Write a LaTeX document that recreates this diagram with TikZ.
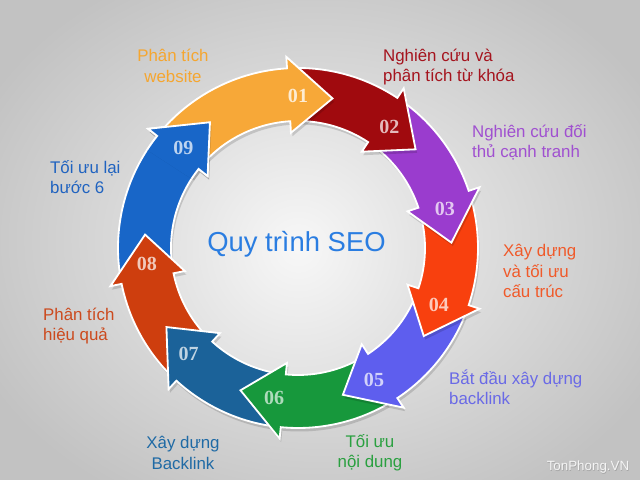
\documentclass[tikz,border=0pt]{standalone}
\usepackage{fontspec}
\setmainfont{Liberation Sans}
\newfontfamily\numfont{Liberation Serif}
\definecolor{cA}{HTML}{F7A838}
\definecolor{cB}{HTML}{A00A0E}
\definecolor{cC}{HTML}{9A3CCE}
\definecolor{cD}{HTML}{F8400E}
\definecolor{cE}{HTML}{5E5EEE}
\definecolor{cF}{HTML}{17983C}
\definecolor{cG}{HTML}{1B6299}
\definecolor{cH}{HTML}{CE3E0E}
\definecolor{cI}{HTML}{1866C8}
\definecolor{tA}{HTML}{F5A630}
\definecolor{tB}{HTML}{A5141E}
\definecolor{tC}{HTML}{A050D0}
\definecolor{tD}{HTML}{F05A2A}
\definecolor{tE}{HTML}{6A6AE6}
\definecolor{tF}{HTML}{2AA040}
\definecolor{tG}{HTML}{1F6AA5}
\definecolor{tH}{HTML}{CC4A1E}
\definecolor{tI}{HTML}{2063C0}
\definecolor{tQ}{HTML}{2A7DE1}
% #1 tail angle, #2 tip angle, #3 colour
\newcommand\segarrow[3]{%
  \fill[black, opacity=0.14, shift={(1.5,-3.5)}] (#1:180) arc[start angle=#1, end angle={#2+16.5}, radius=180] -- ({#2+16.5}:191.5) -- (#2:153.5) -- ({#2+16.5}:115.5) -- ({#2+16.5}:127) arc[start angle={#2+16.5}, end angle=#1, radius=127] -- cycle;
  \filldraw[fill=#3, draw=white, line width=2.6pt, line join=miter] (#1:180) arc[start angle=#1, end angle={#2+16.5}, radius=180] -- ({#2+16.5}:191.5) -- (#2:153.5) -- ({#2+16.5}:115.5) -- ({#2+16.5}:127) arc[start angle={#2+16.5}, end angle=#1, radius=127] -- cycle;
}
\tikzset{
  lbl/.style={font=\fontsize{24}{29}\selectfont, inner sep=0pt},
  num/.style={font=\numfont\bfseries\fontsize{28.5}{30}\selectfont, inner sep=0pt},
}
\begin{document}
\begin{tikzpicture}[x=0.5mm, y=0.5mm]
\useasboundingbox (0,0) rectangle (640,480);
\shade[inner color=gray!10, outer color=gray!48] (-60,-60) rectangle (700,540);
\begin{scope}[shift={(298,232)}]
  \shade[inner color=white!97!black, outer color=gray!22] (0,0) circle (128);
  \segarrow{-172}{-235}{cI}
  \segarrow{-136}{-185}{cH}
  \segarrow{-99}{-149}{cG}
  \segarrow{-60}{-112}{cF}
  \segarrow{-22}{-73}{cE}
  \segarrow{15}{-35}{cD}
  \segarrow{53}{2}{cC}
  \segarrow{90}{40}{cB}
  \segarrow{138}{77}{cA}
  \begin{scope}
    \clip (0,0) -- (117:260) arc[start angle=117, end angle=147, radius=260] -- cycle;
    \segarrow{-172}{-235}{cI}
  \end{scope}
  \node[num, text=white!78!cA] (n1) at (90:152) {01};
  \node[num, text=white!72!cB] (n2) at (53:152) {02};
  \node[num, text=white!72!cC] (n3) at (15:152) {03};
  \node[num, text=white!72!cD] (n4) at (-22:152) {04};
  \node[num, text=white!72!cE] (n5) at (-60:152) {05};
  \node[num, text=white!65!cF] (n6) at (-99:152) {06};
  \node[num, text=white!72!cG] (n7) at (-136:152) {07};
  \node[num, text=white!72!cH] (n8) at (-174:152) {08};
  \node[num, text=white!72!cI] (n9) at (139:152) {09};
\end{scope}
\node[font=\fontsize{39}{40}\selectfont, text=tQ, inner sep=0pt, anchor=base] (title) at (296.5,228) {Quy trình SEO};
\node[lbl, text=tA, align=center] (l1) at (173,414) {Phân tích\\website};
\node[lbl, text=tB, align=left, anchor=west] (l2) at (383,413) {Nghiên cứu và\\phân tích từ khóa};
\node[lbl, text=tC, align=left, anchor=west] (l3) at (472,338) {Nghiên cứu đối\\thủ cạnh tranh};
\node[lbl, text=tD, align=left, anchor=west] (l4) at (503,209) {Xây dựng\\và tối ưu\\cấu trúc};
\node[lbl, text=tE, align=left, anchor=west] (l5) at (449,93) {Bắt đầu xây dựng\\backlink};
\node[lbl, text=tF, align=center] (l6) at (370,27) {Tối ưu\\nội dung};
\node[lbl, text=tG, align=center] (l7) at (183,27) {Xây dựng\\Backlink};
\node[lbl, text=tH, align=left, anchor=west] (l8) at (43,154) {Phân tích\\hiệu quả};
\node[lbl, text=tI, align=left, anchor=west] (l9) at (50,303) {Tối ưu lại\\bước 6};
\node[font=\fontsize{19}{20}\selectfont, text=gray!70, inner sep=0pt] (wm0) at (588.6,12.4) {TonPhong.VN};
\node[font=\fontsize{19}{20}\selectfont, text=white!96!black, inner sep=0pt] (wm) at (588,13) {TonPhong.VN};
\end{tikzpicture}
\end{document}
